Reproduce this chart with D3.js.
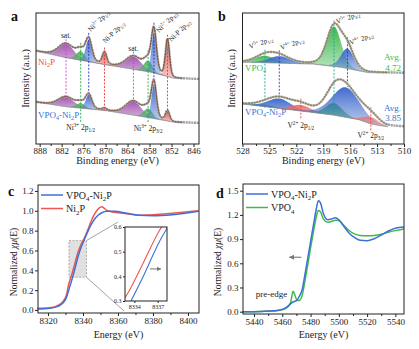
<!DOCTYPE html>
<html>
<head>
<meta charset="utf-8">
<script src="https://cdn.jsdelivr.net/npm/d3@7"></script>
<style>
body { margin: 0; background: #fff; }
svg text { font-family: "Liberation Serif", "Times New Roman", serif; white-space: pre; }
</style>
</head>
<body>
<script>
// Ni 2p fit components: kind, centre (eV), FWHM (eV), heights for each sample
var niKinds = ['sat', 'ni3', 'ni2', 'nip', 'sat', 'ni3', 'ni2', 'nip'];
var niCenters = [880.8, 876.8, 874.6, 870.3, 862.4, 858.4, 856.8, 853.1];
var niWidths = [5.0, 2.8, 2.0, 1.4, 5.0, 2.8, 1.6, 1.3];
var niHeightsNi2P = [10.7, 6.9, 16.8, 9.2, 9.9, 8.4, 31.0, 28.2];
var niHeightsComposite = [7.6, 3.8, 10.7, 1.5, 10.7, 6.9, 26.0, 7.6];
// Shirley-type background knots [eV, intensity]
var niBgNi2P = [[889, 71], [881, 66], [870, 60.5], [858, 55], [851, 50], [844.5, 49.5]];
var niBgComposite = [[889, 32], [881, 28.5], [870, 25.5], [858, 20], [851, 16.5], [844.5, 16]];
var niTicks = [888, 882, 876, 870, 864, 858, 852, 846];

// V 2p fit components
var vKindsVPO4 = ['v5', 'v4', 'v5', 'v4'];
var vCentersVPO4 = [525.5, 523.9, 517.8, 516.3];
var vWidthsVPO4 = [2.6, 2.8, 1.9, 1.7];
var vHeightsVPO4 = [5.3, 5.3, 30.5, 15.3];
var vKindsComposite = ['v5', 'v4', 'v2', 'v5', 'v4', 'v2'];
var vCentersComposite = [525.5, 523.9, 521.5, 517.8, 516.5, 513.7];
var vWidthsComposite = [2.6, 3.0, 2.6, 2.2, 3.6, 2.0];
var vHeightsComposite = [1.5, 7.6, 4.6, 9.2, 22.9, 5.3];
var vBgVPO4 = [[528, 62.5], [520, 61], [517, 58.5], [514, 54.5], [510, 54.2]];
var vBgComposite = [[528, 30.5], [521.5, 25.2], [517.8, 22], [515, 18.5], [513.7, 15.3], [512, 13.3], [510, 13]];
var vTicks = [528, 525, 522, 519, 516, 513, 510];
var vAverages = ['4.72', '3.85'];

// Ni K-edge XANES
var niKEnergy = [8314, 8321, 8326, 8328.5, 8330.5, 8332, 8333.4, 8335, 8337.3, 8339, 8340.8, 8343, 8345, 8347, 8349, 8350.8, 8353.6, 8358, 8365, 8372, 8380, 8391, 8406];
var niKNi2P = [0.017, 0.023, 0.05, 0.085, 0.15, 0.27, 0.345, 0.445, 0.59, 0.665, 0.725, 0.82, 0.91, 0.98, 1.025, 1.04, 1.005, 0.985, 0.97, 0.955, 0.96, 0.975, 1.0];
var niKComposite = [0.01, 0.018, 0.04, 0.07, 0.125, 0.21, 0.29, 0.39, 0.545, 0.635, 0.71, 0.8, 0.87, 0.925, 0.96, 0.98, 0.995, 0.995, 0.975, 0.955, 0.95, 0.96, 0.995];
var niKTicksX = [8320, 8340, 8360, 8380, 8400];
var niKTicksY = [0, 0.2, 0.4, 0.6, 0.8, 1.0, 1.2];

// V K-edge XANES
var vKEnergy = [5432, 5445, 5452, 5456, 5459, 5462, 5464, 5466, 5467.6, 5469, 5470.5, 5472, 5474, 5476, 5478, 5480, 5482, 5484, 5485.5, 5487, 5489, 5492, 5495, 5497.5, 5500, 5503, 5507, 5511, 5515, 5520, 5525, 5530, 5535, 5540, 5546];
var vKComposite = [0, 0.003, 0.01, 0.015, 0.025, 0.045, 0.07, 0.1, 0.12, 0.13, 0.145, 0.19, 0.27, 0.46, 0.66, 0.87, 1.07, 1.27, 1.375, 1.35, 1.22, 1.14, 1.15, 1.165, 1.14, 1.07, 0.98, 0.92, 0.885, 0.88, 0.905, 0.95, 1.0, 1.035, 1.05];
var vKVPO4 = [0, 0.003, 0.008, 0.012, 0.02, 0.035, 0.06, 0.12, 0.255, 0.2, 0.14, 0.14, 0.2, 0.38, 0.58, 0.79, 0.99, 1.17, 1.255, 1.24, 1.15, 1.11, 1.12, 1.135, 1.13, 1.08, 1.01, 0.965, 0.945, 0.94, 0.945, 0.96, 0.985, 1.005, 1.025];
var vKTicksX = [5440, 5460, 5480, 5500, 5520, 5540];
var vKTicksY = [0, 0.3, 0.6, 0.9, 1.2, 1.5];

var FILL = { sat: '#a14fae', ni3: '#3fb352', ni2: '#3a66cc', nip: '#ef4a44', v5: '#34b548', v4: '#3865cc', v2: '#f06a60' };
var DASH = { sat: '#cc44cc', ni3: '#22aa44', ni2: '#2233cc', nip: '#ee3333', v5: '#1ea59a', v4: '#2a3fc8', v2: '#ee4040' };
var BLUE = '#3f6fd8', RED = '#f0554f', GREEN = '#3dbb4a';

var svg = d3.select('body').append('svg').attr('width', 419).attr('height', 349);
var defs = svg.append('defs');
Object.keys(FILL).forEach(function (k) {
    var g = defs.append('linearGradient').attr('id', 'grad-' + k)
        .attr('x1', 0).attr('y1', 0).attr('x2', 0).attr('y2', 1);
    g.append('stop').attr('offset', '0%').attr('stop-color', FILL[k]).attr('stop-opacity', 0.95);
    g.append('stop').attr('offset', '100%').attr('stop-color', FILL[k]).attr('stop-opacity', 0.3);
});
defs.append('marker').attr('id', 'arrow').attr('viewBox', '0 0 10 10')
    .attr('refX', 9).attr('refY', 5).attr('markerWidth', 5).attr('markerHeight', 5)
    .attr('orient', 'auto')
    .append('path').attr('d', 'M0,0 L10,5 L0,10 z').attr('fill', '#777');

// text with ^{sup} and _{sub} parts
function rich(sel, str, fs) {
    var tokens = str.match(/\^\{[^}]*\}|_\{[^}]*\}|[^^_]+/g);
    var shift = 0;
    tokens.forEach(function (t) {
        var kind = t[0] === '^' ? 'sup' : (t[0] === '_' ? 'sub' : null);
        var txt = kind ? t.slice(2, -1) : t;
        var s = kind === 'sup' ? -0.38 * fs : (kind === 'sub' ? 0.25 * fs : 0);
        sel.append('tspan').attr('dy', s - shift).attr('font-size', kind ? fs * 0.68 : fs).text(txt);
        shift = s;
    });
    return sel;
}

function label(g, x, y, str, fs, opts) {
    opts = opts || {};
    var t = g.append('text').attr('x', x).attr('y', y)
        .attr('fill', opts.color || '#222')
        .attr('text-anchor', opts.anchor || 'start');
    if (opts.rotate) t.attr('transform', 'rotate(' + opts.rotate + ',' + x + ',' + y + ')');
    if (opts.weight) t.attr('font-weight', opts.weight);
    return rich(t, str, fs);
}

function profile(e, c, h, w) {
    var t = (e - c) / w;
    return h * (0.75 * Math.exp(-4 * Math.LN2 * t * t) + 0.25 / (1 + 4 * t * t));
}

function styleAxis(sel, fs) {
    sel.attr('font-family', '"Liberation Serif", serif').attr('font-size', fs);
    sel.select('.domain').remove();
    sel.selectAll('line').attr('stroke', '#222');
    sel.selectAll('text').attr('fill', '#222');
}

function frame(g, box) {
    g.append('rect').attr('x', box.left).attr('y', box.top)
        .attr('width', box.right - box.left).attr('height', box.bottom - box.top)
        .attr('fill', 'none').attr('stroke', '#222').attr('stroke-width', 1);
}

function bottomAxis(g, x, box, major, minor, pad, fs) {
    g.append('g').attr('transform', 'translate(0,' + box.bottom + ')')
        .call(d3.axisBottom(x).tickValues(minor).tickSize(2).tickFormat(''))
        .call(styleAxis, fs);
    g.append('g').attr('transform', 'translate(0,' + box.bottom + ')')
        .call(d3.axisBottom(x).tickValues(major).tickSize(3).tickPadding(pad).tickFormat(d3.format('d')))
        .call(styleAxis, fs);
}

// ---- XPS panels ----
function drawXps(cfg) {
    var box = cfg.box;
    var g = svg.append('g');
    var x = d3.scaleLinear().domain(cfg.domain).range([box.left, box.right]);
    var y = d3.scaleLinear().domain([0, 100]).range([box.bottom, box.top]);
    var lo = Math.min(cfg.domain[0], cfg.domain[1]), hi = Math.max(cfg.domain[0], cfg.domain[1]);
    var energies = d3.range(lo, hi + 0.001, 0.05);
    var fitEnergies = energies.filter(function (e) { return e <= cfg.fitRange[0] && e >= cfg.fitRange[1]; });

    var spectra = cfg.spectra.map(function (sp) {
        var bg = d3.scaleLinear().domain(sp.bg.map(function (d) { return d[0]; }))
            .range(sp.bg.map(function (d) { return d[1]; })).clamp(true);
        var env = function (e) {
            return bg(e) + d3.sum(sp.centers, function (c, i) { return profile(e, c, sp.heights[i], sp.widths[i]); });
        };
        return { sp: sp, bg: bg, env: env };
    });

    spectra.forEach(function (s) {
        var sp = s.sp;
        sp.centers.forEach(function (c, i) {
            var pts = fitEnergies.filter(function (e) { return Math.abs(e - c) < sp.widths[i] * 3.2; });
            var area = d3.area()
                .x(function (e) { return x(e); })
                .y0(function (e) { return y(s.bg(e)); })
                .y1(function (e) { return y(s.bg(e) + profile(e, c, sp.heights[i], sp.widths[i])); });
            g.append('path').datum(pts).attr('d', area).attr('fill', 'url(#grad-' + sp.kinds[i] + ')');
        });
        // background line
        g.append('path').datum(fitEnergies)
            .attr('d', d3.line().x(function (e) { return x(e); }).y(function (e) { return y(s.bg(e)); }))
            .attr('fill', 'none').attr('stroke', '#8a8a8a').attr('stroke-width', 0.8);
    });

    // dashed guide lines
    cfg.guides.forEach(function (gd) {
        g.append('line').attr('x1', x(gd.e)).attr('x2', x(gd.e))
            .attr('y1', gd.y1(spectra, y)).attr('y2', gd.y2(spectra, y))
            .attr('stroke', DASH[gd.kind]).attr('stroke-width', 0.9).attr('stroke-dasharray', '2,1.5');
    });

    spectra.forEach(function (s) {
        // measured data (grey) and fitted envelope
        g.append('path').datum(energies)
            .attr('d', d3.line().x(function (e) { return x(e); }).y(function (e) { return y(s.env(e)); }))
            .attr('fill', 'none').attr('stroke', '#a3a3a3').attr('stroke-width', 2.4).attr('stroke-dasharray', '2.2,0.6');
        g.append('path').datum(fitEnergies)
            .attr('d', d3.line().x(function (e) { return x(e); }).y(function (e) { return y(s.env(e)); }))
            .attr('fill', 'none').attr('stroke', cfg.envColor).attr('stroke-width', 0.9);
    });

    frame(g, box);
    bottomAxis(g, x, box, cfg.ticks, cfg.minor, 1, 9);

    g.append('text').attr('x', (box.left + box.right) / 2).attr('y', 164)
        .attr('text-anchor', 'middle').attr('font-size', 10).attr('fill', '#222').text('Binding energy (eV)');
    g.append('text').attr('transform', 'translate(' + cfg.yTitleX + ',' + ((box.top + box.bottom) / 2) + ') rotate(-90)')
        .attr('text-anchor', 'middle').attr('font-size', 10).attr('fill', '#222').text('Intensity (a.u.)');
    g.append('text').attr('x', cfg.letterX).attr('y', 20.5).attr('font-size', 14).attr('font-weight', 'bold')
        .attr('fill', '#111').text(cfg.letter);

    return { g: g, x: x, y: y, spectra: spectra };
}

function minorTicks(major) {
    return major.slice(1).map(function (d, i) { return (d + major[i]) / 2; });
}

// panel a: Ni 2p
var pa = drawXps({
    letter: 'a', letterX: 11, yTitleX: 29,
    box: { left: 36, right: 199, top: 13, bottom: 144 },
    domain: [889, 844.5], fitRange: [889, 849],
    ticks: niTicks, minor: minorTicks(niTicks),
    envColor: '#6e3f22',
    spectra: [
        { kinds: niKinds, centers: niCenters, widths: niWidths, heights: niHeightsNi2P, bg: niBgNi2P },
        { kinds: niKinds, centers: niCenters, widths: niWidths, heights: niHeightsComposite, bg: niBgComposite }
    ],
    guides: niCenters.map(function (c, i) {
        return {
            e: c, kind: niKinds[i],
            y1: function (sp, y) { return y(sp[0].env(c)) - 4; },
            y2: function (sp, y) { return niKinds[i] === 'ni3' ? 122 : y(sp[1].env(c)) + 3; }
        };
    })
});
(function () {
    var g = pa.g, x = pa.x, top = pa.spectra[0], y = pa.y;
    label(g, x(880.8), y(top.env(880.8)) - 5, 'sat.', 7.5, { anchor: 'middle' });
    label(g, x(862.4), y(top.env(862.4)) - 5, 'sat.', 7.5, { anchor: 'middle' });
    label(g, x(874.6) + 2, y(top.env(874.6)) - 5, 'Ni^{2+} 2p_{1/2}', 7, { rotate: -45 });
    label(g, x(870.3) + 1, y(top.env(870.3)) - 8, 'Ni-P 2p_{1/2}', 7, { rotate: -45 });
    label(g, x(856.8) + 5, 33, 'Ni^{2+} 2p_{3/2}', 7, { rotate: -45 });
    label(g, x(853.1) + 4, 42, 'Ni-P 2p_{3/2}', 7, { rotate: -45 });
    label(g, 38, 65, 'Ni_{2}P', 9, { color: '#ef4d4d' });
    label(g, 38, 118, 'VPO_{4}-Ni_{2}P', 9, { color: '#3a6fd8' });
    label(g, x(876.8), 130, 'Ni^{3+} 2p_{1/2}', 7.5, { anchor: 'middle' });
    label(g, x(858.4), 131, 'Ni^{3+} 2p_{3/2}', 7.5, { anchor: 'middle' });
})();

// panel b: V 2p
var pb = drawXps({
    letter: 'b', letterX: 218, yTitleX: 235,
    box: { left: 242.5, right: 404, top: 13, bottom: 144 },
    domain: [528, 510], fitRange: [528, 511.8],
    ticks: vTicks, minor: minorTicks(vTicks),
    envColor: '#857538',
    spectra: [
        { kinds: vKindsVPO4, centers: vCentersVPO4, widths: vWidthsVPO4, heights: vHeightsVPO4, bg: vBgVPO4 },
        { kinds: vKindsComposite, centers: vCentersComposite, widths: vWidthsComposite, heights: vHeightsComposite, bg: vBgComposite }
    ],
    guides: [
        { e: 525.5, kind: 'v5', y1: function (sp, y) { return y(sp[0].env(525.5)) - 3; }, y2: function (sp, y) { return y(sp[1].bg(525.5)) + 2; } },
        { e: 523.9, kind: 'v4', y1: function (sp, y) { return y(sp[0].env(523.9)) - 3; }, y2: function (sp, y) { return y(sp[1].env(523.9)) + 1; } },
        { e: 517.8, kind: 'v5', y1: function (sp, y) { return y(sp[0].env(517.8)) - 3; }, y2: function (sp, y) { return y(sp[1].bg(517.8)) - 3; } },
        { e: 516.3, kind: 'v4', y1: function (sp, y) { return y(sp[0].env(516.3)) - 3; }, y2: function (sp, y) { return y(sp[1].env(516.3)) + 3; } },
        { e: 521.5, kind: 'v2', y1: function (sp, y) { return y(sp[1].env(521.5)) - 3; }, y2: function (sp, y) { return 119; } },
        { e: 513.7, kind: 'v2', y1: function (sp, y) { return y(sp[1].env(513.7)) - 3; }, y2: function (sp, y) { return 131; } }
    ]
});
(function () {
    var g = pb.g, x = pb.x;
    label(g, x(525.5) - 15, 49, 'V^{5+} 2p_{1/2}', 7, { rotate: -20 });
    label(g, x(523.9) + 2, 50, 'V^{4+} 2p_{1/2}', 7, { rotate: -20 });
    label(g, x(517.8) + 3, 24, 'V^{5+} 2p_{3/2}', 7, { rotate: -20 });
    label(g, x(516.3) + 3, 45, 'V^{4+} 2p_{3/2}', 7, { rotate: -20 });
    label(g, 245, 71, 'VPO_{4}', 9, { color: GREEN });
    label(g, 245, 114.5, 'VPO_{4}-Ni_{2}P', 9, { color: '#3a6fd8' });
    label(g, 401, 60, 'Avg.', 9, { color: GREEN, anchor: 'end' });
    label(g, 401, 71, vAverages[0], 9, { color: GREEN, anchor: 'end' });
    label(g, 401, 111, 'Avg.', 9, { color: '#3a6fd8', anchor: 'end' });
    label(g, 401, 121, vAverages[1], 9, { color: '#3a6fd8', anchor: 'end' });
    label(g, x(521.5), 128, 'V^{2+} 2p_{1/2}', 7.5, { anchor: 'middle' });
    label(g, x(513.7), 138, 'V^{2+} 2p_{3/2}', 7.5, { anchor: 'middle' });
})();

// ---- XANES panels ----
function drawXanes(cfg) {
    var box = cfg.box;
    var g = svg.append('g');
    var x = d3.scaleLinear().domain(cfg.xDomain).range([box.left, box.right]);
    var y = d3.scaleLinear().domain(cfg.yDomain).range([box.bottom, box.top]);
    var line = d3.line().curve(d3.curveMonotoneX)
        .x(function (d) { return x(d[0]); }).y(function (d) { return y(d[1]); });

    if (cfg.before) cfg.before(g, x, y);
    cfg.series.forEach(function (s) {
        g.append('path').datum(cfg.energy.map(function (e, i) { return [e, s.values[i]]; }))
            .attr('d', line).attr('fill', 'none').attr('stroke', s.color).attr('stroke-width', 1.5);
    });

    frame(g, box);
    var minor = minorTicks(cfg.xTicks);
    bottomAxis(g, x, box, cfg.xTicks, minor, 2, 9);
    g.append('g').attr('transform', 'translate(' + box.left + ',0)')
        .call(d3.axisLeft(y).tickValues(cfg.yTicks).tickSize(3).tickPadding(1.5).tickFormat(d3.format('.1f')))
        .call(styleAxis, 9);

    g.append('text').attr('x', (box.left + box.right) / 2).attr('y', 338)
        .attr('text-anchor', 'middle').attr('font-size', 10).attr('fill', '#222').text('Energy (eV)');
    var yt = g.append('text').attr('transform', 'translate(' + cfg.yTitleX + ',262) rotate(-90)')
        .attr('text-anchor', 'middle').attr('font-size', 9.5).attr('fill', '#222');
    yt.append('tspan').text('Normalized ');
    yt.append('tspan').attr('font-style', 'italic').text('χμ');
    yt.append('tspan').text('(E)');
    g.append('text').attr('x', cfg.letterX).attr('y', cfg.letterY).attr('font-size', 14).attr('font-weight', 'bold')
        .attr('fill', '#111').text(cfg.letter);

    // legend
    cfg.series.slice().reverse().forEach(function (s, i) {
        var ly = box.top + 10 + i * 13.5;
        g.append('line').attr('x1', box.left + 3).attr('x2', box.left + 25).attr('y1', ly).attr('y2', ly)
            .attr('stroke', s.color).attr('stroke-width', 1.5);
        label(g, box.left + 28, ly + 3.5, s.name, 10);
    });
    return { g: g, x: x, y: y };
}

var pc = drawXanes({
    letter: 'c', letterX: 8, letterY: 196, yTitleX: 17,
    box: { left: 38, right: 199, top: 185, bottom: 313 },
    xDomain: [8314.3, 8406.3], yDomain: [-0.03, 1.26],
    xTicks: niKTicksX, yTicks: niKTicksY,
    energy: niKEnergy,
    series: [
        { name: 'Ni_{2}P', values: niKNi2P, color: RED },
        { name: 'VPO_{4}-Ni_{2}P', values: niKComposite, color: BLUE }
    ],
    before: function (g, x, y) {
        // zoom window on the edge
        g.append('rect').attr('x', x(8332)).attr('y', y(0.70))
            .attr('width', x(8342) - x(8332)).attr('height', y(0.33) - y(0.70))
            .attr('fill', '#d6d6d6').attr('fill-opacity', 0.75)
            .attr('stroke', '#8f8f8f').attr('stroke-width', 0.7).attr('stroke-dasharray', '2,1.5');
        g.append('line').attr('x1', x(8342)).attr('y1', y(0.70)).attr('x2', 118).attr('y2', 222)
            .attr('stroke', '#9a9a9a').attr('stroke-width', 0.9);
        g.append('line').attr('x1', x(8342)).attr('y1', y(0.33)).attr('x2', 124).attr('y2', 311)
            .attr('stroke', '#9a9a9a').attr('stroke-width', 0.9);
    }
});

// inset: magnified edge
(function () {
    var box = { left: 125, right: 167, top: 227, bottom: 301 };
    var g = svg.append('g');
    var x = d3.scaleLinear().domain([8332.8, 8338.2]).range([box.left, box.right]);
    var y = d3.scaleLinear().domain([0.3, 0.6]).range([box.bottom, box.top]);
    g.append('rect').attr('x', box.left).attr('y', box.top)
        .attr('width', box.right - box.left).attr('height', box.bottom - box.top).attr('fill', '#fff');
    defs.append('clipPath').attr('id', 'inset-clip').append('rect')
        .attr('x', box.left).attr('y', box.top).attr('width', box.right - box.left).attr('height', box.bottom - box.top);
    var line = d3.line().curve(d3.curveMonotoneX)
        .x(function (d) { return x(d[0]); }).y(function (d) { return y(d[1]); });
    [[niKNi2P, RED], [niKComposite, BLUE]].forEach(function (s) {
        g.append('path').datum(niKEnergy.map(function (e, i) { return [e, s[0][i]]; }))
            .attr('clip-path', 'url(#inset-clip)')
            .attr('d', line).attr('fill', 'none').attr('stroke', s[1]).attr('stroke-width', 1.1);
    });
    g.append('line').attr('x1', x(8336)).attr('x2', x(8337.4)).attr('y1', y(0.43)).attr('y2', y(0.43))
        .attr('stroke', '#666').attr('stroke-width', 0.9).attr('marker-end', 'url(#arrow)');
    frame(g, box);
    g.append('g').attr('transform', 'translate(0,' + box.bottom + ')')
        .call(d3.axisBottom(x).tickValues([8334, 8337]).tickSize(2).tickPadding(1.5).tickFormat(d3.format('d')))
        .call(styleAxis, 6);
    g.append('g').attr('transform', 'translate(' + box.left + ',0)')
        .call(d3.axisLeft(y).tickValues([0.3, 0.4, 0.5, 0.6]).tickSize(2).tickPadding(1.5).tickFormat(d3.format('.1f')))
        .call(styleAxis, 6);
})();

var pd = drawXanes({
    letter: 'd', letterX: 216, letterY: 198, yTitleX: 221,
    box: { left: 243, right: 404, top: 184, bottom: 314 },
    xDomain: [5432.2, 5546.1], yDomain: [-0.0285, 1.583],
    xTicks: vKTicksX, yTicks: vKTicksY,
    energy: vKEnergy,
    series: [
        { name: 'VPO_{4}', values: vKVPO4, color: GREEN },
        { name: 'VPO_{4}-Ni_{2}P', values: vKComposite, color: BLUE }
    ]
});
(function () {
    var g = pd.g, x = pd.x, y = pd.y;
    g.append('line').attr('x1', x(5473.5)).attr('x2', x(5465)).attr('y1', y(0.675)).attr('y2', y(0.675))
        .attr('stroke', '#777').attr('stroke-width', 1.1).attr('marker-end', 'url(#arrow)');
    label(g, x(5441.3), y(0.18), 'pre-edge', 9);
})();
</script>
</body>
</html>
